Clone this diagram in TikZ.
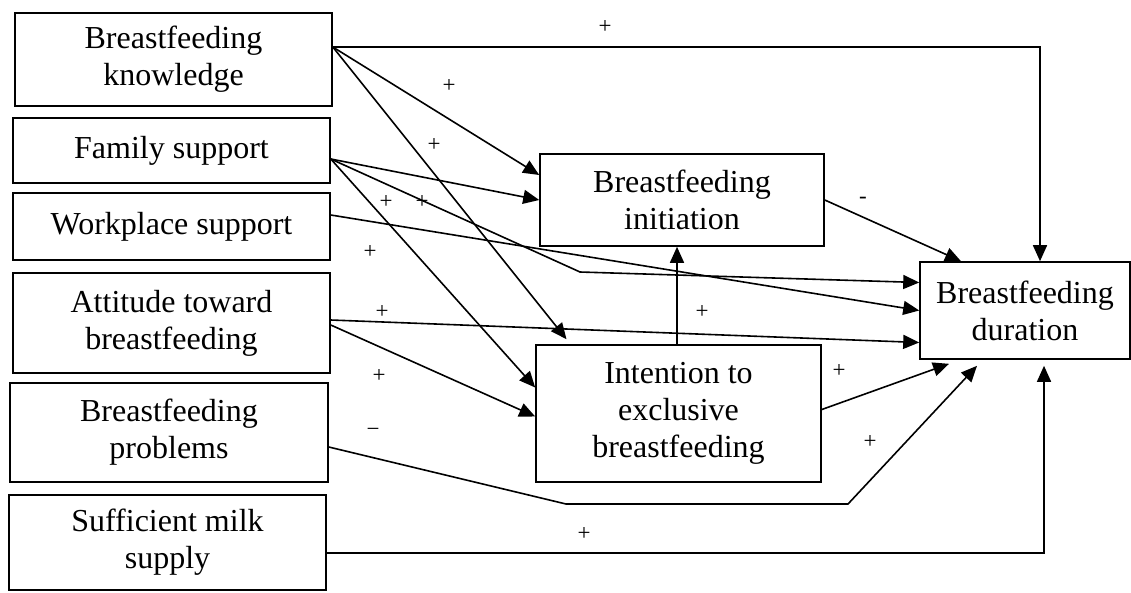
\documentclass[tikz,border=0pt]{standalone}
\usepackage{fontspec}
\setmainfont{Liberation Serif}
\usetikzlibrary{arrows.meta}
\begin{document}
\begin{tikzpicture}[x=1pt,y=-1pt,
  box/.style={draw,line width=1.6pt,align=center,inner sep=0pt,font=\fontsize{32}{37}\selectfont},
  sign/.style={font=\fontsize{23}{26}\selectfont,inner sep=0pt},
  arr/.style={line width=1.6pt,-{Triangle[length=16pt,width=14pt]}}]
\useasboundingbox (0,0) rectangle (1131,592);
\node[box,minimum width=317pt,minimum height=93pt] (know) at (173.5,59.5) {Breastfeeding\\knowledge};
\node[box,minimum width=317pt,minimum height=65pt] (family) at (171.5,150.5) {Family support};
\node[box,minimum width=317pt,minimum height=67pt] (work) at (171.5,226.5) {Workplace support};
\node[box,minimum width=317pt,minimum height=100pt] (attit) at (171.5,323) {Attitude toward\\breastfeeding};
\node[box,minimum width=318pt,minimum height=99pt] (probl) at (169,432.5) {Breastfeeding\\problems};
\node[box,minimum width=317pt,minimum height=95pt] (milk) at (167.5,542.5) {Sufficient milk\\supply};
\node[box,minimum width=284pt,minimum height=92pt] (init) at (682,200) {Breastfeeding\\initiation};
\node[box,minimum width=285pt,minimum height=137pt] (intent) at (678.5,413.5) {Intention to\\exclusive\\breastfeeding};
\node[box,minimum width=210pt,minimum height=97pt] (dur) at (1025,310.5) {Breastfeeding\\duration};
\coordinate (bend1) at (580,272);
\coordinate (bend2) at (566,504);
\coordinate (bend3) at (848,504);
\draw[arr] ([yshift=12.5pt]know.east) -| ([xshift=15pt]dur.north);
\draw[arr] ([yshift=12.5pt]know.east) -- ([yshift=25pt]init.west);
\draw[arr] ([yshift=12.5pt]know.east) -- ([xshift=-112pt,yshift=5pt]intent.north);
\draw[arr] ([yshift=-8.5pt]family.east) -- (init.west);
\draw[arr] ([yshift=-8.5pt]family.east) -- (bend1) -- ([yshift=28pt]dur.west);
\draw[arr] ([yshift=-8.5pt]family.east) -- ([yshift=26pt]intent.west);
\draw[arr] ([yshift=11.5pt]work.east) -- (dur.west);
\draw[arr] ([yshift=3pt]attit.east) -- ([yshift=-32pt]dur.west);
\draw[arr] ([yshift=-2pt]attit.east) -- ([yshift=-3pt]intent.west);
\draw[arr] ([yshift=-14.5pt]probl.east) -- (bend2) -- (bend3) -- ([xshift=-48pt,yshift=-6pt]dur.south);
\draw[arr] ([yshift=-10.5pt]milk.east) -| ([xshift=19pt,yshift=-6pt]dur.south);
\draw[arr] ([yshift=4pt]intent.east) -- ([xshift=-76pt,yshift=-4pt]dur.south);
\draw[arr] (init.east) -- ([xshift=-64pt]dur.north);
\draw[arr] ([xshift=-1.5pt]intent.north) -- ([xshift=-1.5pt]intent.north |- init.south);
\node[sign] (p1) at (605,27) {+};
\node[sign] (p2) at (449,86) {+};
\node[sign] (p3) at (434,145) {+};
\node[sign] (p4) at (386,202) {+};
\node[sign] (p5) at (422,202) {+};
\node[sign] (p6) at (370,252) {+};
\node[sign] (p7) at (382,312) {+};
\node[sign] (p8) at (379,376) {+};
\node[sign] (p9) at (702,312) {+};
\node[sign] (p10) at (839,371) {+};
\node[sign] (p11) at (870,442) {+};
\node[sign] (p12) at (584,534) {+};
\node[sign] (m1) at (863,200) {-};
\node[sign] (m2) at (373,432) {−};
\end{tikzpicture}
\end{document}
